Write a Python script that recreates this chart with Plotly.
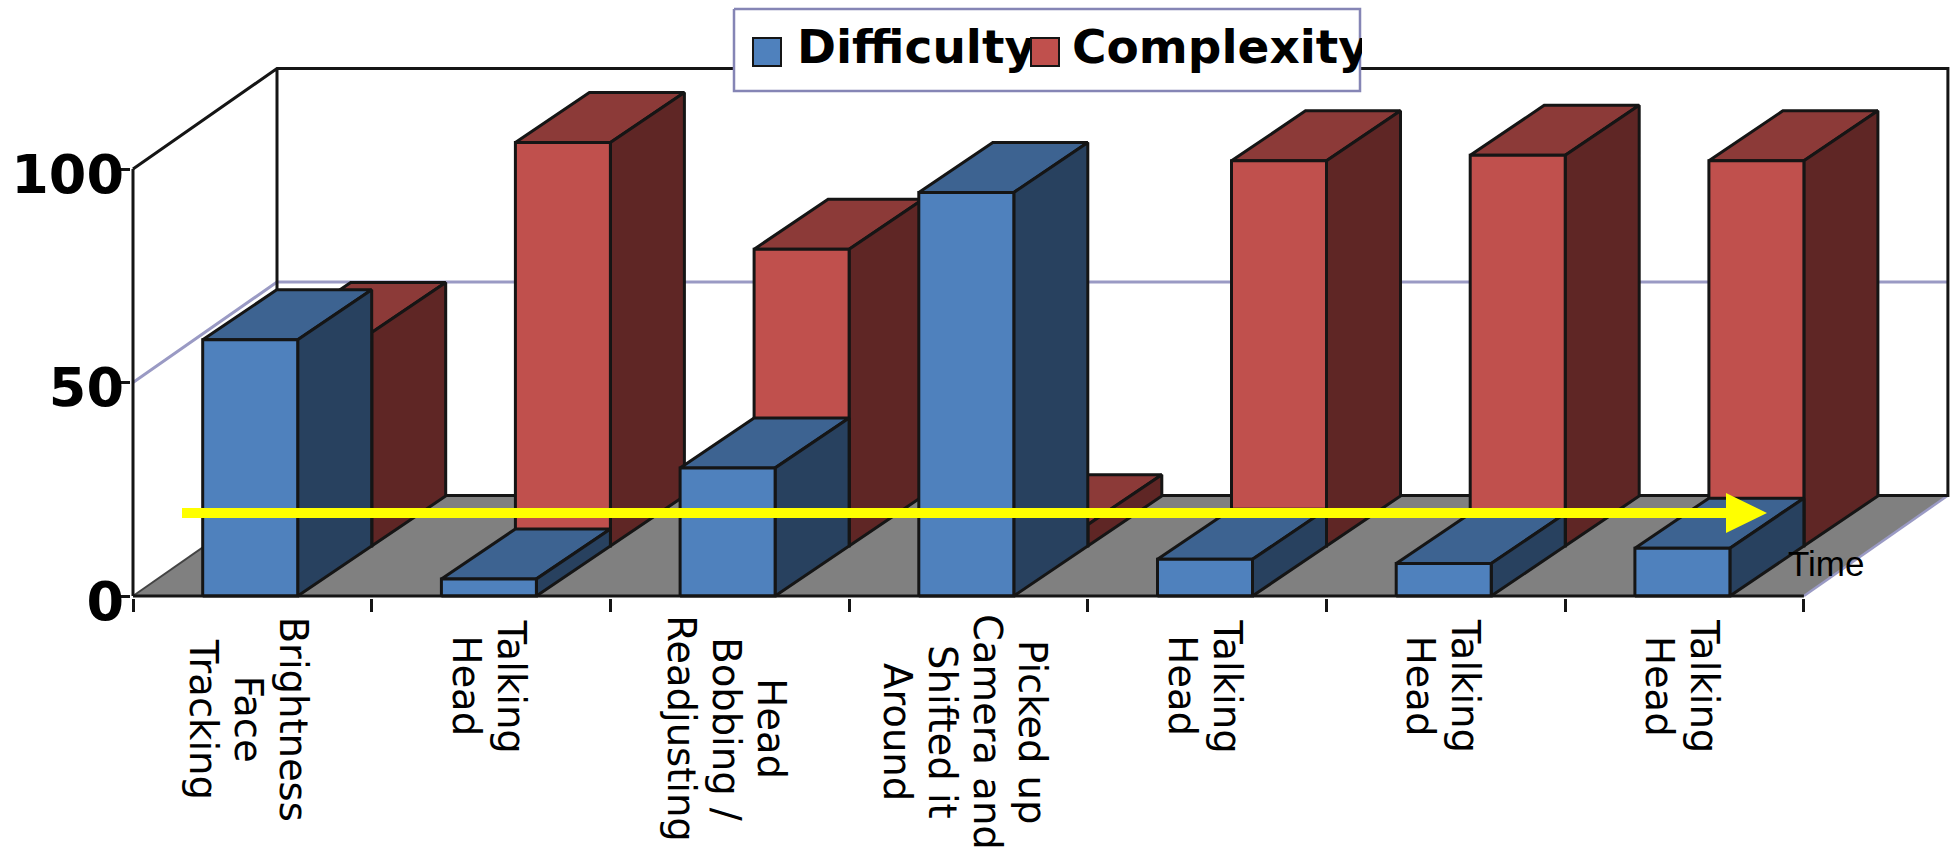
import plotly.graph_objects as go

categories = [
    ["Brightness", "Face", "Tracking"],
    ["Talking", "Head"],
    ["Head", "Bobbing /", "Readjusting"],
    ["Picked up", "Camera and", "Shifted it", "Around"],
    ["Talking", "Head"],
    ["Talking", "Head"],
    ["Talking", "Head"],
]
difficulty = [60, 4, 30, 94.5, 8.6, 7.6, 11.2]
complexity = [50, 94.5, 69.5, 5, 90.2, 91.5, 90.2]
y_ticks = [0, 50, 100]

W, H = 1951, 851
X0, Y0 = 133, 596          # pixel position of the chart origin
CAT_PX, VAL_PX = 238.7, 4.27
PLOT_BOTTOM = 598
L, B = 131, H - PLOT_BOTTOM

BAR_OFF, BAR_W = 0.292, 0.398
BAR_DX, BAR_DY = 74 / CAT_PX, 50 / VAL_PX
WALL_DX, WALL_DY = 144 / CAT_PX, 100.5 / VAL_PX
N = len(categories)

INK = "#151515"
GRID = "#9a9ac4"
BLUE = dict(front="#4f81bd", top="#3d6391", side="#28415f")
RED = dict(front="#c0504d", top="#8c3a38", side="#5f2625")

LABEL_MID_PX = [719, 686, 729, 732, 686, 686, 686]   # vertical middle of each label block
LABEL_STEP_PX = 45
LABEL_SHIFT_PX = -3


def dx(px):
    return (px - X0) / CAT_PX


def dy(py):
    return (Y0 - py) / VAL_PX


def faces(values, depth):
    out = {"front": ([], []), "top": ([], []), "side": ([], [])}
    for i, v in enumerate(values):
        x0 = i + BAR_OFF + depth * BAR_DX
        x1 = x0 + BAR_W
        b = depth * BAR_DY
        t = b + v
        polys = {
            "front": [(x0, b), (x1, b), (x1, t), (x0, t), (x0, b)],
            "top": [(x0, t), (x1, t), (x1 + BAR_DX, t + BAR_DY), (x0 + BAR_DX, t + BAR_DY), (x0, t)],
            "side": [(x1, b), (x1 + BAR_DX, b + BAR_DY), (x1 + BAR_DX, t + BAR_DY), (x1, t), (x1, b)],
        }
        for k, poly in polys.items():
            out[k][0].extend([p[0] for p in poly] + [None])
            out[k][1].extend([p[1] for p in poly] + [None])
    return out


def line(xs, ys, color=INK, width=3, **kw):
    return go.Scatter(x=xs, y=ys, mode="lines", line=dict(color=color, width=width),
                      hoverinfo="skip", showlegend=False, **kw)


fig = go.Figure()

# floor
fig.add_trace(go.Scatter(
    x=[0, N, N + WALL_DX, WALL_DX, 0], y=[0, 0, WALL_DY, WALL_DY, 0],
    mode="lines", fill="toself", fillcolor="#808080",
    line=dict(color="rgba(0,0,0,0)", width=0), hoverinfo="skip", showlegend=False))
fig.add_trace(line([N, N + WALL_DX], [0, WALL_DY], color=GRID, width=2.5))
fig.add_trace(line([0, WALL_DX], [0, WALL_DY], color="#444444", width=2))

# gridline at 50
fig.add_trace(line([0, WALL_DX, N + WALL_DX], [50, 50 + WALL_DY, 50 + WALL_DY], color=GRID, width=3))

# walls
fig.add_trace(line([0, WALL_DX, N + WALL_DX, N + WALL_DX, WALL_DX, WALL_DX],
                   [100, 100 + WALL_DY, 100 + WALL_DY, WALL_DY, WALL_DY, 100 + WALL_DY]))
fig.add_trace(line([0, 0], [0, 100]))

# bars: rear series first, then the front series
for values, depth, col, name in ((complexity, 1, RED, "Complexity"), (difficulty, 0, BLUE, "Difficulty")):
    f = faces(values, depth)
    for key in ("top", "side", "front"):
        fig.add_trace(go.Scatter(
            x=f[key][0], y=f[key][1], mode="lines", fill="toself", fillcolor=col[key],
            line=dict(color=INK, width=3), name=name, showlegend=False, hoverinfo="skip"))

# front axis line
fig.add_trace(line([0, N], [0, 0]))

# legend drawn as a small clipped panel, so that its text is cut at the box edge
LX0, LX1, LY0, LY1 = 734, 1360, 9, 91
PAD = 2
PW, PH = W - L, H - B


def box(color_fill):
    return go.Scatter(x=[LX0, LX1, LX1, LX0, LX0], y=[LY0, LY0, LY1, LY1, LY0],
                      mode="lines", fill="toself" if color_fill else None,
                      fillcolor="#ffffff" if color_fill else None,
                      line=dict(color="#8585b5", width=2.5),
                      xaxis="x2", yaxis="y2", hoverinfo="skip", showlegend=False)


fig.add_trace(box(True))
fig.add_trace(go.Scatter(
    x=[797, 1072], y=[51, 51], mode="text", text=["Difficulty", "Complexity"],
    textposition="middle right", cliponaxis=True,
    textfont=dict(family="DejaVu Sans", size=47, color="#000000", weight="bold"),
    xaxis="x2", yaxis="y2", hoverinfo="skip", showlegend=False))
for px, col in ((767, BLUE), (1045, RED)):
    fig.add_trace(go.Scatter(
        x=[px], y=[52], mode="markers",
        marker=dict(symbol="square", size=28, color=col["front"], line=dict(color=INK, width=2)),
        xaxis="x2", yaxis="y2", hoverinfo="skip", showlegend=False))

# yellow time arrow
ay, half, headh = 513, 5, 20
pts = [(182, ay - half), (1726, ay - half), (1726, ay - headh), (1767, ay), (1726, ay + headh),
       (1726, ay + half), (182, ay + half)]
path = "M" + " L".join(f"{dx(a):.4f},{dy(b):.4f}" for a, b in pts) + " Z"

annotations = [dict(text="Time", x=dx(1786), y=dy(563), xref="x", yref="y", xanchor="left",
                    yanchor="middle", showarrow=False,
                    font=dict(family="Liberation Sans", size=35, color="#000000"))]
for i, lines in enumerate(categories):
    for k, txt in enumerate(lines):
        px_off = LABEL_SHIFT_PX + ((len(lines) - 1) / 2 - k) * LABEL_STEP_PX
        annotations.append(dict(
            text=txt, textangle=90, showarrow=False,
            x=i + 0.5 + px_off / CAT_PX, y=(PLOT_BOTTOM - LABEL_MID_PX[i]) / PLOT_BOTTOM,
            xref="x", yref="paper", xanchor="center", yanchor="middle",
            font=dict(family="DejaVu Sans", size=38.5, color="#000000")))

fig.update_layout(
    width=W, height=H,
    margin=dict(l=L, r=0, t=0, b=B, pad=0),
    paper_bgcolor="#ffffff", plot_bgcolor="rgba(0,0,0,0)",
    showlegend=False,
    shapes=[dict(type="path", path=path, xref="x", yref="y", fillcolor="#ffff00",
                 line=dict(width=0), layer="above")],
    annotations=annotations,
    xaxis=dict(
        domain=[0, 1], range=[dx(L), dx(W)], showgrid=False, zeroline=False, showline=False,
        automargin=False, tickmode="array", tickvals=[i + 0.5 for i in range(N)],
        ticks="", showticklabels=False,
        minor=dict(tickmode="array", tickvals=list(range(N + 1)), ticks="outside", ticklen=13,
                   tickwidth=3, tickcolor=INK, showgrid=False),
    ),
    yaxis=dict(
        domain=[0, 1], range=[dy(PLOT_BOTTOM), dy(0)], showgrid=False, zeroline=False, showline=False,
        automargin=False, tickmode="array", tickvals=y_ticks, ticktext=[str(v) for v in y_ticks],
        ticks="", ticklabelshift=5, ticklabelstandoff=6,
        minor=dict(tickmode="array", tickvals=y_ticks, ticks="outside", ticklen=14,
                   tickwidth=3, tickcolor=INK, showgrid=False),
        tickfont=dict(family="DejaVu Sans", size=54, color="#000000", weight="bold"),
    ),
    xaxis2=dict(domain=[(LX0 - PAD - L) / PW, (LX1 + PAD - L) / PW],
                range=[LX0 - PAD, LX1 + PAD], visible=False, anchor="y2", fixedrange=True),
    yaxis2=dict(domain=[1 - (LY1 + PAD) / PH, 1 - (LY0 - PAD) / PH],
                range=[LY1 + PAD, LY0 - PAD], visible=False, anchor="x2", fixedrange=True),
)

fig.write_html(
    "out.html",
    config=dict(displayModeBar=False),
    post_script="document.body.style.margin='0';document.body.style.overflow='hidden';",
)
